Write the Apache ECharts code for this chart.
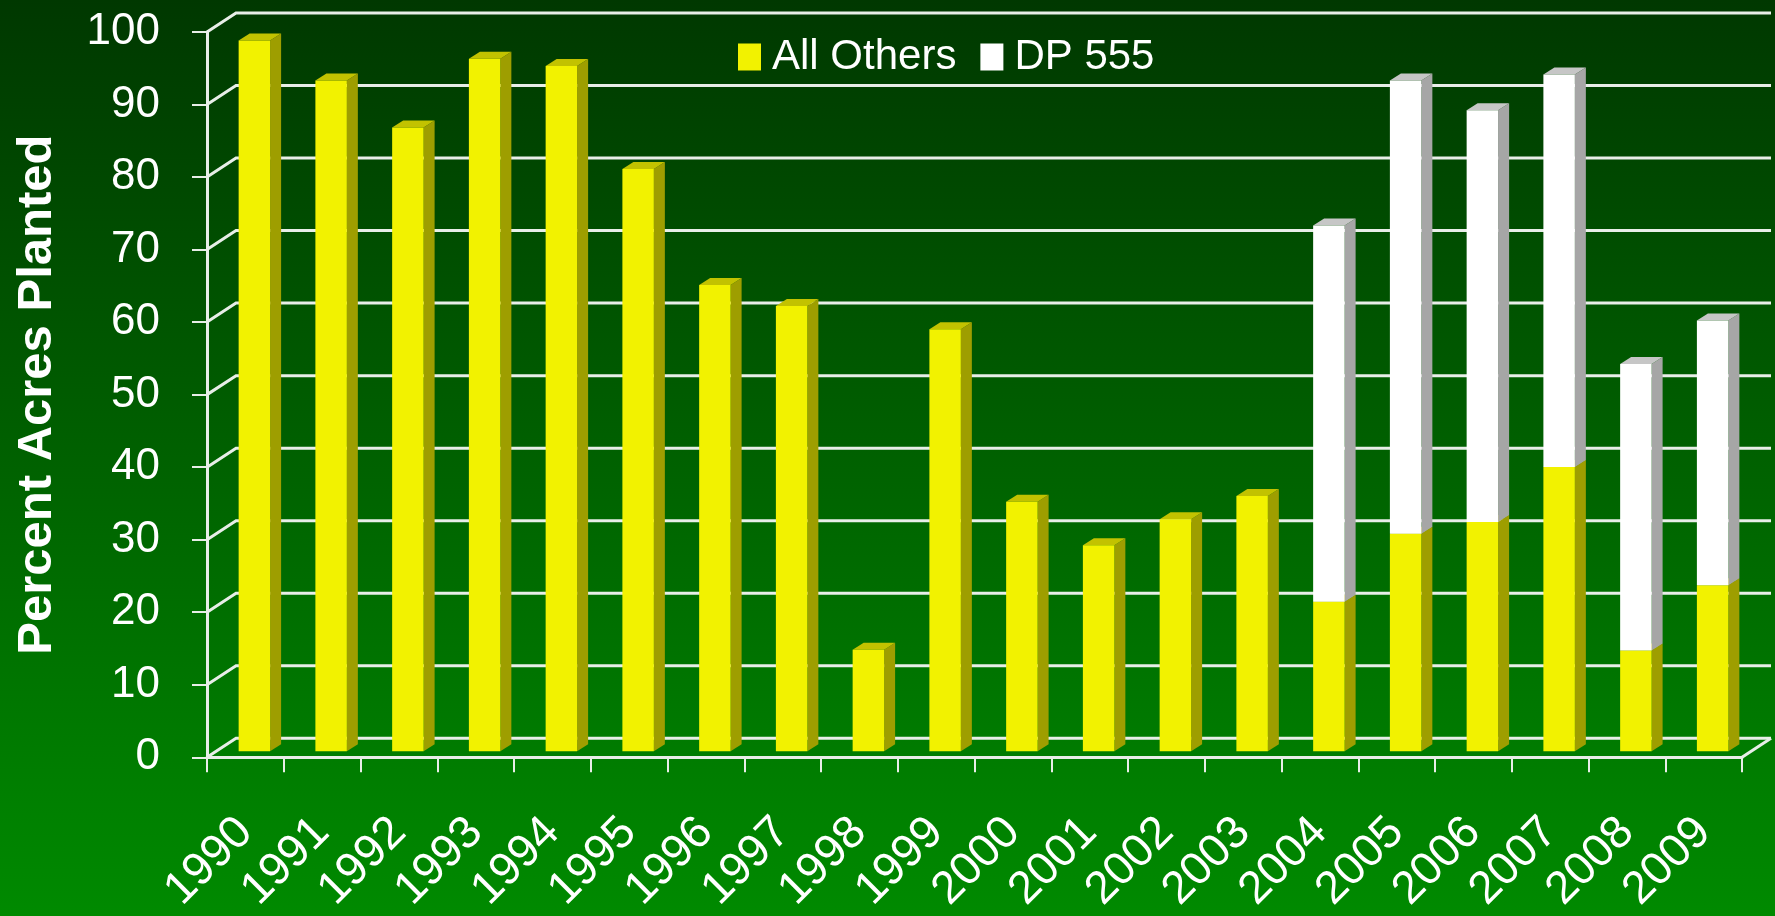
<!DOCTYPE html>
<html>
<head>
<meta charset="utf-8">
<script src="https://cdn.jsdelivr.net/npm/echarts@6/dist/echarts.min.js"></script>
<style>
html,body{margin:0;padding:0;background:#005a00;}
#chart{width:1775px;height:916px;}
</style>
</head>
<body>
<div id="chart"></div>
<script>
// ---- data ----
const years = ['1990','1991','1992','1993','1994','1995','1996','1997','1998','1999',
               '2000','2001','2002','2003','2004','2005','2006','2007','2008','2009'];
const allOthers = [98, 92.5, 86, 95.5, 94.5, 80.3, 64.3, 61.4, 14, 58.2,
                   34.4, 28.4, 32, 35.2, 20.6, 30, 31.6, 39.2, 13.9, 22.9];
const dp555 = [null, null, null, null, null, null, null, null, null, null,
               null, null, null, null, 51.9, 62.5, 56.8, 54.1, 39.5, 36.5];
const yTicks = [0, 10, 20, 30, 40, 50, 60, 70, 80, 90, 100];
const seriesNames = ['All Others', 'DP 555'];

// ---- 3D look constants ----
const WALL = [29, -19];      // depth of back wall
const FACE = [9, -6];        // bar front plane offset
const DEPTH = [11, -7];      // bar depth
const FRONT_RATIO = 0.41;    // bar front width / band

const yellowData = allOthers.map((v, i) => [i, v, 0]);
const whiteData = dp555.map((v, i) => v == null ? [i, null, null] : [i, v, allOthers[i]]);
const gridData = yTicks.map(v => [0, v]);

function boxRenderer(colors) {
  return function (params, api) {
    const v = api.value(1);
    if (v == null || isNaN(v)) return;
    const i = api.value(0);
    const base = api.value(2) || 0;
    const band = api.size([1, 0])[0];
    const c = api.coord([i, 0])[0];
    const w = band * FRONT_RATIO;
    const L = c - w / 2 + FACE[0];
    const R = L + w;
    const yT = api.coord([i, base + v])[1] + FACE[1];
    const yB = api.coord([i, base])[1] + FACE[1];
    const dx = DEPTH[0], dy = DEPTH[1];
    return {
      type: 'group',
      children: [
        { type: 'polygon', shape: { points: [[R, yB], [R + dx, yB + dy], [R + dx, yT + dy], [R, yT]] },
          style: { fill: colors.side } },
        { type: 'polygon', shape: { points: [[L, yT], [L + dx, yT + dy], [R + dx, yT + dy], [R, yT]] },
          style: { fill: colors.top } },
        { type: 'rect', shape: { x: L, y: yT, width: w, height: yB - yT },
          style: { fill: colors.front } }
      ]
    };
  };
}

const chart = echarts.init(document.getElementById('chart'));
const lineColor = '#e8eee8';
chart.setOption({
  animation: false,
  backgroundColor: {
    type: 'linear', x: 0, y: 0, x2: 0, y2: 1,
    colorStops: [{ offset: 0, color: '#003800' }, { offset: 1, color: '#008a00' }]
  },
  legend: {
    data: seriesNames,
    left: 733, top: 31,
    icon: 'rect', itemWidth: 23, itemHeight: 27, itemGap: 24,
    textStyle: { color: '#ffffff', fontSize: 42, fontFamily: 'Liberation Sans', padding: [0, 0, 0, 6] }
  },
  grid: { left: 207, right: 33, top: 32, bottom: 158 },
  xAxis: {
    type: 'category', data: years, boundaryGap: true,
    axisLine: { show: true, lineStyle: { color: lineColor, width: 3 } },
    axisTick: { show: true, length: 15, lineStyle: { color: lineColor, width: 2 } },
    axisLabel: { interval: 0, rotate: 45, margin: 68, color: '#ffffff', fontSize: 46, fontFamily: 'Liberation Sans' },
    splitLine: { show: false }
  },
  yAxis: {
    type: 'value', min: 0, max: 100, interval: 10,
    name: 'Percent Acres Planted', nameLocation: 'middle', nameGap: 145, nameRotate: 90,
    nameTextStyle: { color: '#ffffff', fontSize: 49, fontWeight: 'bold', fontFamily: 'Liberation Sans' },
    axisLine: { show: true, lineStyle: { color: lineColor, width: 3 } },
    axisTick: { show: true, length: 15, lineStyle: { color: lineColor, width: 2 } },
    axisLabel: { margin: 47, color: '#ffffff', fontSize: 44, fontFamily: 'Liberation Sans' },
    splitLine: { show: false }
  },
  series: [
    {
      name: 'wall', type: 'custom', z: 1, silent: true,
      data: gridData,
      renderItem: function (params, api) {
        const cs = params.coordSys;
        const v = api.value(1);
        const y = api.coord([0, v])[1];
        const x0 = cs.x, x1 = cs.x + cs.width;
        const children = [
          { type: 'polyline', shape: { points: [[x0, y], [x0 + WALL[0], y + WALL[1]], [x1 + WALL[0], y + WALL[1]]] },
            style: { stroke: lineColor, lineWidth: 3, fill: null } }
        ];
        if (v === 0) {
          children.push({ type: 'line', shape: { x1: x1, y1: y, x2: x1 + WALL[0], y2: y + WALL[1] },
            style: { stroke: lineColor, lineWidth: 3 } });
        }
        return { type: 'group', children: children };
      }
    },
    {
      name: seriesNames[0], type: 'custom', z: 2,
      itemStyle: { color: '#f2f200' },
      data: yellowData,
      encode: { x: 0, y: 1 },
      renderItem: boxRenderer({ front: '#f2f200', side: '#9e9e00', top: '#c2c200' })
    },
    {
      name: seriesNames[1], type: 'custom', z: 3,
      itemStyle: { color: '#ffffff' },
      data: whiteData,
      encode: { x: 0, y: 1 },
      renderItem: boxRenderer({ front: '#ffffff', side: '#a6a6a6', top: '#c6c6c6' })
    }
  ]
});
</script>
</body>
</html>
